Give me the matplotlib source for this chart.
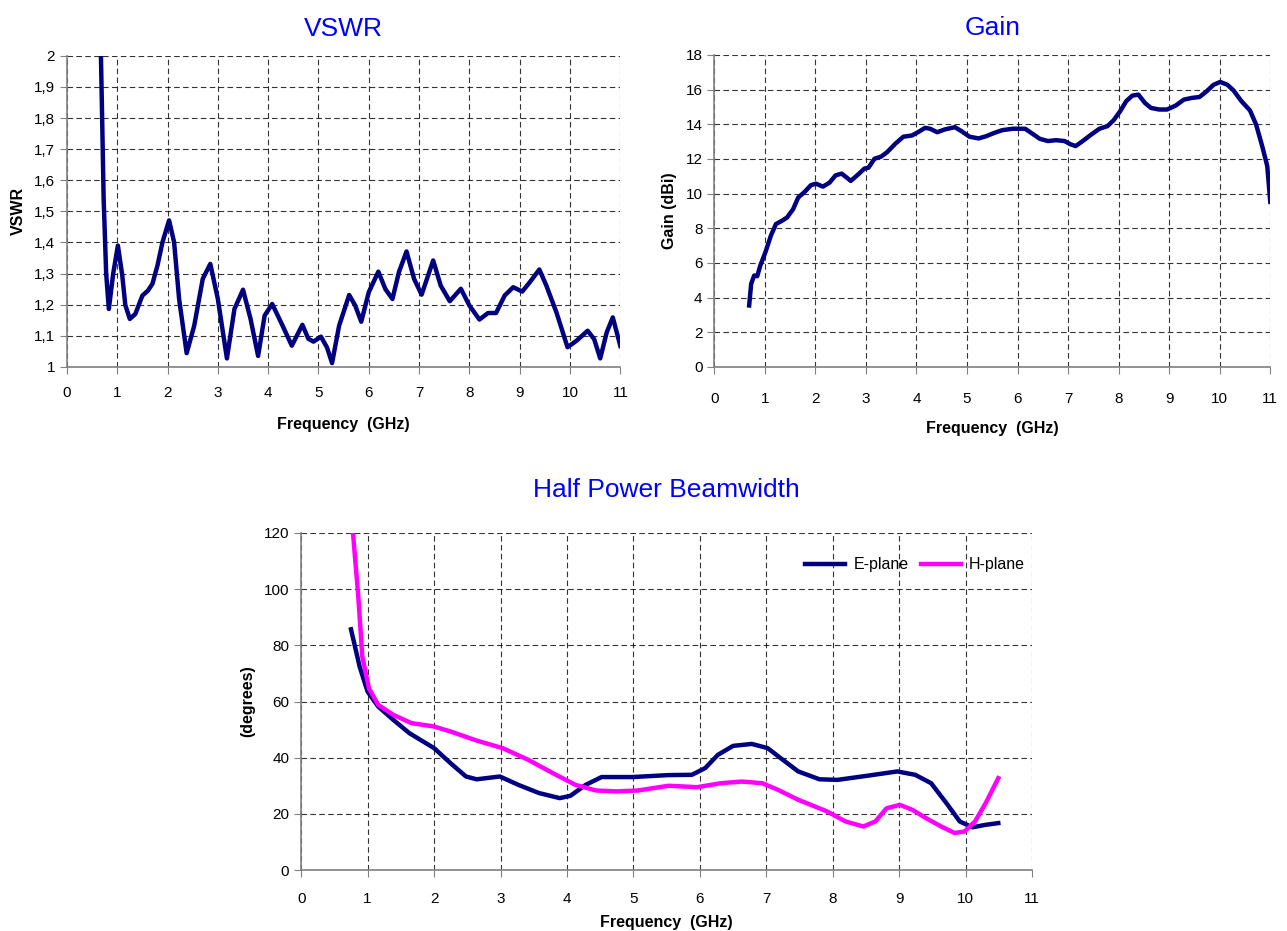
import numpy as np
import matplotlib
matplotlib.use("Agg")
import matplotlib.pyplot as plt
from matplotlib.ticker import FuncFormatter

plt.rcParams["font.family"] = ["Liberation Sans", "DejaVu Sans"]

NAVY = "#000080"
MAGENTA = "#FF00FF"
TITLE_BLUE = "#0000FF"

# VSWR vs frequency (GHz)
vswr_f = [0.67, 0.70, 0.73, 0.78, 0.833, 0.92, 1.013, 1.10, 1.16, 1.25, 1.36, 1.50, 1.61,
          1.70, 1.80, 1.90, 2.03, 2.13, 2.23, 2.38, 2.53, 2.70, 2.85, 3.00, 3.18, 3.33,
          3.50, 3.65, 3.80, 3.93, 4.08, 4.27, 4.47, 4.68, 4.80, 4.90, 5.05, 5.17, 5.27,
          5.41, 5.61, 5.73, 5.85, 6.00, 6.19, 6.33, 6.47, 6.60, 6.75, 6.90, 7.05, 7.28,
          7.43, 7.61, 7.83, 8.00, 8.20, 8.37, 8.53, 8.70, 8.87, 9.05, 9.20, 9.39, 9.53,
          9.73, 9.95, 10.13, 10.35, 10.48, 10.60, 10.73, 10.85, 11.0]
vswr_v = [2.05, 1.80, 1.54, 1.30, 1.186, 1.30, 1.390, 1.294, 1.199, 1.154, 1.170, 1.229, 1.245,
          1.267, 1.326, 1.401, 1.471, 1.401, 1.218, 1.044, 1.132, 1.283, 1.331, 1.218, 1.027, 1.186,
          1.248, 1.154, 1.035, 1.165, 1.202, 1.138, 1.068, 1.135, 1.090, 1.081, 1.097, 1.062, 1.012,
          1.132, 1.231, 1.197, 1.145, 1.240, 1.306, 1.250, 1.218, 1.305, 1.371, 1.283, 1.232, 1.342,
          1.261, 1.211, 1.251, 1.197, 1.152, 1.173, 1.173, 1.229, 1.256, 1.242, 1.272, 1.313, 1.261,
          1.175, 1.063, 1.084, 1.116, 1.089, 1.027, 1.111, 1.159, 1.067]

# Gain vs frequency (GHz)
gain_f = [0.69, 0.73, 0.79, 0.85, 0.91, 1.01, 1.12, 1.22, 1.34, 1.44, 1.56, 1.66, 1.79,
          1.91, 2.01, 2.15, 2.28, 2.40, 2.52, 2.62, 2.70, 2.85, 2.97, 3.05, 3.17, 3.30,
          3.42, 3.58, 3.74, 3.91, 4.03, 4.17, 4.27, 4.41, 4.56, 4.76, 4.89, 5.05, 5.23,
          5.38, 5.54, 5.70, 5.91, 6.15, 6.27, 6.44, 6.60, 6.76, 6.93, 7.05, 7.15, 7.29,
          7.46, 7.62, 7.78, 7.90, 8.03, 8.15, 8.27, 8.39, 8.52, 8.64, 8.80, 8.96, 9.13,
          9.29, 9.45, 9.60, 9.74, 9.88, 10.01, 10.15, 10.27, 10.43, 10.60, 10.72, 10.84,
          10.94, 11.0]
gain_v = [3.54, 4.79, 5.27, 5.23, 5.84, 6.6, 7.57, 8.24, 8.43, 8.62, 9.1, 9.77, 10.1,
          10.48, 10.57, 10.4, 10.63, 11.05, 11.15, 10.92, 10.73, 11.11, 11.44, 11.49, 12.01, 12.13,
          12.39, 12.87, 13.28, 13.35, 13.54, 13.79, 13.74, 13.54, 13.7, 13.83, 13.6, 13.28, 13.18,
          13.31, 13.5, 13.66, 13.74, 13.74, 13.5, 13.16, 13.03, 13.08, 13.03, 12.84, 12.74, 13.03,
          13.41, 13.74, 13.89, 14.23, 14.75, 15.33, 15.65, 15.71, 15.23, 14.94, 14.85, 14.85, 15.08,
          15.42, 15.52, 15.57, 15.9, 16.28, 16.44, 16.28, 15.96, 15.33, 14.79, 13.98, 12.74,
          11.59, 9.52]

# Half power beamwidth (degrees)
e_f = [0.75, 0.88, 1.0, 1.16, 1.39, 1.63, 2.0, 2.25, 2.48, 2.64, 2.99, 3.27, 3.58, 3.89,
       4.05, 4.28, 4.52, 4.98, 5.53, 5.88, 6.08, 6.27, 6.5, 6.78, 7.02, 7.25, 7.48, 7.8,
       8.07, 8.5, 8.97, 9.24, 9.48, 9.71, 9.91, 10.10, 10.30, 10.49]
e_v = [85.7, 72.4, 63.5, 58.2, 53.4, 48.7, 43.4, 38.0, 33.3, 32.3, 33.3, 30.3, 27.4, 25.6,
       26.4, 30.3, 33.1, 33.1, 33.8, 33.9, 36.3, 41.0, 44.2, 44.9, 43.4, 39.2, 35.1, 32.3,
       32.1, 33.5, 35.1, 33.9, 30.9, 23.8, 17.3, 15.2, 16.1, 16.7]
h_f = [0.78, 0.86, 0.92, 1.02, 1.16, 1.39, 1.66, 2.0, 2.25, 2.64, 3.03, 3.42, 3.81, 4.13,
       4.44, 4.75, 5.06, 5.53, 5.96, 6.31, 6.63, 6.94, 7.17, 7.48, 7.91, 8.19, 8.46, 8.64,
       8.81, 9.01, 9.2, 9.4, 9.63, 9.83, 9.98, 10.14, 10.3, 10.49]
h_v = [120, 97.3, 76.0, 64.7, 58.8, 55.2, 52.3, 51.1, 49.3, 46.1, 43.4, 39.2, 34.2, 30.3,
       28.3, 28.0, 28.3, 30.0, 29.5, 30.9, 31.5, 30.9, 28.6, 25.0, 20.9, 17.3, 15.5, 17.3,
       22.0, 23.2, 21.4, 18.5, 15.5, 13.2, 13.7, 17.3, 23.8, 32.7]

LW = 3.2


def style_axes(ax, xlabel, ylabel):
    ax.grid(True, color="black", linestyle=(0, (5, 3)), linewidth=0.8, alpha=0.8)
    ax.set_axisbelow(True)
    for s in ("top", "right"):
        ax.spines[s].set_visible(False)
    for s in ("left", "bottom"):
        ax.spines[s].set_color("#808080")
        ax.spines[s].set_linewidth(1.2)
    ax.tick_params(direction="out", length=5, color="#808080", labelsize=11,
                   labelcolor="black")
    ax.tick_params(axis="x", pad=9)
    ax.set_xlim(0, 11)
    ax.set_xticks(range(0, 12))
    ax.set_xlabel(xlabel, fontsize=11.5, fontweight="bold", labelpad=12)
    ax.set_ylabel(ylabel, fontsize=11.5, fontweight="bold", labelpad=6)


fig = plt.figure(figsize=(12.87, 9.31), dpi=100)

# VSWR
ax1 = fig.add_axes([0.052, 0.606, 0.430, 0.334])
ax1.plot(vswr_f, vswr_v, color=NAVY, linewidth=LW, solid_joinstyle="round")
ax1.set_ylim(1, 2)
ax1.set_yticks(np.arange(1, 2.01, 0.1))
ax1.yaxis.set_major_formatter(FuncFormatter(
    lambda v, p: ("%g" % round(v, 1)).replace(".", ",")))
style_axes(ax1, "Frequency  (GHz)", "VSWR")
ax1.set_title("VSWR", color=TITLE_BLUE, fontsize=19, pad=14)

# Gain
ax2 = fig.add_axes([0.555, 0.606, 0.432, 0.335])
ax2.plot(gain_f, gain_v, color=NAVY, linewidth=LW, solid_joinstyle="round")
ax2.set_ylim(0, 18)
ax2.set_yticks(range(0, 19, 2))
style_axes(ax2, "Frequency  (GHz)", "Gain (dBi)")
ax2.tick_params(axis="x", pad=13)
ax2.xaxis.labelpad = 11
ax2.set_title("Gain", color=TITLE_BLUE, fontsize=19, pad=14)

# Half power beamwidth
ax3 = fig.add_axes([0.234, 0.0655, 0.568, 0.362])
ax3.plot(e_f, e_v, color=NAVY, linewidth=LW, label="E-plane")
ax3.plot(h_f, h_v, color=MAGENTA, linewidth=LW, label="H-plane")
ax3.set_ylim(0, 120)
ax3.set_yticks(range(0, 121, 20))
style_axes(ax3, "Frequency  (GHz)", "(degrees)")
ax3.tick_params(axis="x", pad=11)
ax3.xaxis.labelpad = 6
ax3.set_title("Half Power Beamwidth", color=TITLE_BLUE, fontsize=19, pad=26)
ax3.legend(loc="upper right", ncol=2, frameon=False, fontsize=11.5,
           handlelength=2.5, columnspacing=0.8, handletextpad=0.5,
           bbox_to_anchor=(1.01, 0.97))

fig.savefig("out.png", dpi=100)
